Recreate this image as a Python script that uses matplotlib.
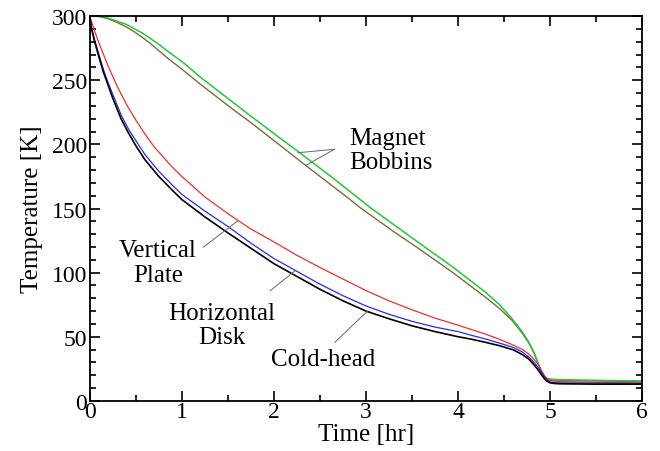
import matplotlib
matplotlib.use("Agg")
import matplotlib.pyplot as plt
from matplotlib.ticker import MultipleLocator

plt.rcParams["font.family"] = ["Liberation Serif", "DejaVu Serif"]

# ── data ──────────────────────────────────────────────────────────────────────
t_cold = [0, 0.02, 0.05, 0.1, 0.15, 0.2, 0.25, 0.34, 0.42, 0.5, 0.6, 0.75, 0.9, 1.0,
          1.25, 1.5, 1.75, 2.0, 2.25, 2.5, 2.75, 3.0, 3.25, 3.5, 3.75, 4.0, 4.15, 4.3,
          4.45, 4.6, 4.7, 4.77, 4.82, 4.86, 4.9, 4.93, 4.96, 5.0, 5.05, 5.1, 5.5, 6.0]
T_cold = [300, 290, 281, 268, 256, 246, 236, 220, 209, 199, 188, 175, 164, 157,
          143.5, 131, 119, 107, 97, 87, 78, 70, 64, 58.5, 54, 50, 48, 45.6,
          43, 39.8, 36, 32.5, 28.5, 25, 21, 18, 15.5, 14, 13.5, 13.3, 13, 13]

t_disk = t_cold
T_disk = [300, 291, 282, 270, 258, 248, 239, 223, 212, 203, 192, 179, 168, 161,
          148, 136, 123, 111, 101, 91, 82, 74, 67.5, 62, 57.5, 54, 51, 48.2,
          45, 41.7, 38, 34, 30.5, 27, 23, 19.5, 16.5, 14.8, 14.2, 14, 13.8, 13.5]

t_plate = [0, 0.05, 0.1, 0.2, 0.3, 0.4, 0.5, 0.6, 0.7, 0.8, 0.9, 1.0, 1.25, 1.5,
           1.75, 2.0, 2.25, 2.5, 2.75, 3.0, 3.25, 3.5, 3.75, 4.0, 4.15, 4.3, 4.45,
           4.6, 4.7, 4.77, 4.83, 4.88, 4.91, 4.94, 4.97, 5.0, 5.05, 5.1, 5.5, 6.0]
T_plate = [300, 289, 279, 261, 245, 231, 219, 208, 198, 190, 182, 175, 159, 146,
           134, 124, 113.5, 104, 95, 86, 78, 71, 64.5, 59, 55.5, 52, 48,
           43.5, 40, 36.4, 32, 27.3, 23, 19.5, 17, 16, 15.3, 15, 14.5, 14]

t_bob1 = [0, 0.05, 0.13, 0.2, 0.3, 0.4, 0.49, 0.58, 0.67, 0.76, 0.85, 1.03, 1.2, 1.39,
          1.57, 1.75, 2.0, 2.28, 2.61, 2.91, 3.05, 3.3, 3.58, 3.94, 4.3, 4.45, 4.59,
          4.7, 4.77, 4.83, 4.88, 4.93, 4.97, 5.0, 5.1, 5.5, 6.0]
T_bob1 = [300, 300, 299.8, 298.5, 296, 293.5, 290, 286.5, 282, 277.5, 272.5, 263, 252.5, 242,
          232, 222, 208.5, 193.5, 175.5, 158.5, 150.5, 137.5, 123, 104.5, 84.6, 75, 63.8,
          53.5, 45.6, 37, 27.3, 19.5, 17.5, 17, 16.5, 16, 15.5]

t_bob2 = [0, 0.1, 0.2, 0.3, 0.4, 0.49, 0.58, 0.67, 0.76, 0.85, 1.03, 1.2, 1.39, 1.57,
          1.75, 2.0, 2.32, 2.61, 2.82, 2.94, 3.3, 3.58, 3.94, 4.3, 4.45, 4.59, 4.7,
          4.77, 4.83, 4.88, 4.93, 4.97, 5.0, 5.1, 5.5, 6.0]
T_bob2 = [300, 299.7, 298, 295, 291.5, 287.5, 283, 278, 272.5, 267, 257, 247, 236.5, 226.5,
          217, 203, 185, 169, 157.4, 150.5, 132, 118.4, 100.2, 80.7, 72, 62.5, 52.5,
          45, 36.5, 27, 19.5, 17, 16.5, 16, 15.5, 15]

# ── plot ──────────────────────────────────────────────────────────────────────
fig = plt.figure(figsize=(6.6, 4.52), dpi=100)
ax = fig.add_axes([0.136, 0.111, 0.837, 0.851])

ax.plot(t_bob2, T_bob2, color="#7d6a3c", lw=1.0)
ax.plot(t_bob1, T_bob1, color="#22c83a", lw=1.1)
ax.plot(t_plate, T_plate, color="#f03030", lw=0.9)
ax.plot(t_disk, T_disk, color="#2a2aee", lw=0.9)
ax.plot(t_cold, T_cold, color="black", lw=1.2)

ax.set_xlim(0, 6)
ax.set_ylim(0, 300)
ax.xaxis.set_major_locator(MultipleLocator(1))
ax.xaxis.set_minor_locator(MultipleLocator(0.5))
ax.yaxis.set_major_locator(MultipleLocator(50))
ax.yaxis.set_minor_locator(MultipleLocator(10))
ax.tick_params(which="both", direction="in", top=True, right=True, labelsize=17, width=1.2)
ax.tick_params(which="major", length=7, pad=2)
ax.tick_params(which="minor", length=4)
ax.tick_params(axis="x", which="major", pad=0)
for s in ax.spines.values():
    s.set_linewidth(1.3)

ax.set_xlabel("Time [hr]", fontsize=18, labelpad=1)
ax.set_ylabel("Temperature [K]", fontsize=18, labelpad=6)

# annotations
fs = 18
ax.text(2.82, 195.5, "Magnet\nBobbins", fontsize=fs, ha="left", va="center", linespacing=1.1)
ax.text(0.74, 108, "Vertical\nPlate", fontsize=fs, ha="center", va="center", linespacing=1.15)
ax.text(1.43, 59, "Horizontal\nDisk", fontsize=fs, ha="center", va="center", linespacing=1.1)
ax.text(2.54, 32.6, "Cold-head", fontsize=fs, ha="center", va="center")

lk = dict(arrowprops=dict(arrowstyle="-", color="#666666", lw=0.7, shrinkA=0, shrinkB=0))
ax.annotate("", xy=(2.26, 193.5), xytext=(2.66, 196.2), **lk)
ax.annotate("", xy=(2.34, 183.4), xytext=(2.66, 196.2), **lk)
ax.annotate("", xy=(1.61, 140.5), xytext=(1.23, 119.7), **lk)
ax.annotate("", xy=(2.23, 101.5), xytext=(1.96, 85.8), **lk)
ax.annotate("", xy=(3.02, 70.2), xytext=(2.66, 45.5), **lk)

fig.savefig("out.png", dpi=100)
